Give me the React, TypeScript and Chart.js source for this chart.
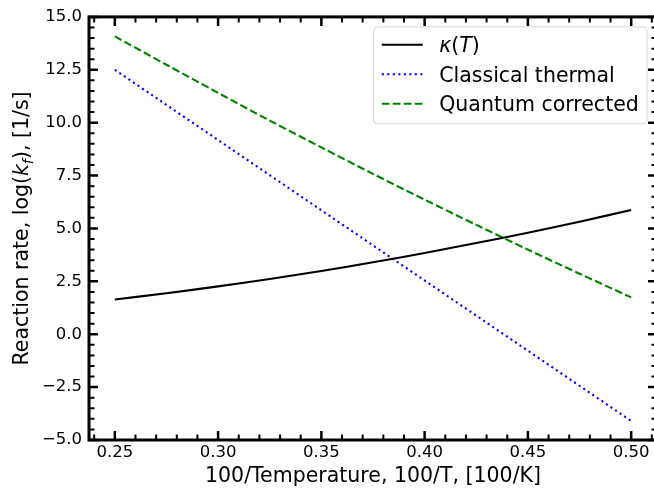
import { useEffect, useRef } from "react";
import { Chart, registerables } from "chart.js";

Chart.register(...registerables);

// Inverse temperature, 100/T [100/K]
const invTemperature = [0.25, 0.275, 0.3, 0.325, 0.35, 0.375, 0.4, 0.425, 0.45, 0.475, 0.5];
// Tunnelling correction kappa(T)
const kappaT = [1.64, 1.94, 2.26, 2.61, 2.99, 3.4, 3.84, 4.31, 4.8, 5.32, 5.87];
// Classical thermal rate, log(k_f)
const classicalThermal = [12.5, 10.84, 9.18, 7.52, 5.86, 4.2, 2.54, 0.88, -0.78, -2.44, -4.1];
// Quantum corrected rate, log(k_f)
const quantumCorrected = [14.08, 12.74, 11.41, 10.1, 8.83, 7.58, 6.36, 5.17, 4.0, 2.86, 1.74];

const xTickValues = [0.25, 0.3, 0.35, 0.4, 0.45, 0.5];
const yTickValues = [-5, -2.5, 0, 2.5, 5, 7.5, 10, 12.5, 15];
const xMinorStep = 0.01;
const yMinorStep = 0.5;

const FONT = "DejaVu Sans";

type Run = { t: string; i?: boolean; sub?: boolean };

const yTitleRuns: Run[] = [
  { t: "Reaction rate, log(" },
  { t: "k", i: true },
  { t: "f", i: true, sub: true },
  { t: "), [1/s]" },
];

const legendRuns: Run[][] = [
  [{ t: "κ", i: true }, { t: "(" }, { t: "T", i: true }, { t: ")" }],
  [{ t: "Classical thermal" }],
  [{ t: "Quantum corrected" }],
];

function runFont(r: Run, size: number) {
  const s = r.sub ? size * 0.7 : size;
  return `${r.i ? "italic " : ""}${s}px "${FONT}"`;
}

function runsWidth(ctx: CanvasRenderingContext2D, runs: Run[], size: number) {
  let w = 0;
  for (const r of runs) {
    ctx.font = runFont(r, size);
    w += ctx.measureText(r.t).width;
  }
  return w;
}

// Draws runs left-aligned from (x, y) on an alphabetic baseline
function drawRuns(ctx: CanvasRenderingContext2D, runs: Run[], size: number, x: number, y: number) {
  ctx.textBaseline = "alphabetic";
  ctx.textAlign = "left";
  let cx = x;
  for (const r of runs) {
    ctx.font = runFont(r, size);
    ctx.fillText(r.t, cx, r.sub ? y + size * 0.22 : y);
    cx += ctx.measureText(r.t).width;
  }
}

const frameAndTicks = {
  id: "frameAndTicks",
  afterDatasetsDraw(chart: any) {
    const { ctx, chartArea } = chart;
    const { left, right, top, bottom } = chartArea;
    const xs = chart.scales.x;
    const ys = chart.scales.y;
    const majorLen = 9;
    const minorLen = 5.5;
    ctx.save();
    ctx.strokeStyle = "#000";
    ctx.lineCap = "butt";

    const isMajor = (v: number, list: number[]) => list.some((m) => Math.abs(m - v) < 1e-6);

    // x ticks, bottom and top
    ctx.lineWidth = 2;
    for (let i = Math.ceil(xs.min / xMinorStep - 1e-6); i * xMinorStep <= xs.max + 1e-9; i++) {
      const v = i * xMinorStep;
      if (isMajor(v, xTickValues)) continue;
      const px = xs.getPixelForValue(v);
      ctx.beginPath();
      ctx.moveTo(px, bottom);
      ctx.lineTo(px, bottom - minorLen);
      ctx.moveTo(px, top);
      ctx.lineTo(px, top + minorLen);
      ctx.stroke();
    }
    for (let i = Math.ceil(ys.min / yMinorStep - 1e-6); i * yMinorStep <= ys.max + 1e-9; i++) {
      const v = i * yMinorStep;
      if (isMajor(v, yTickValues)) continue;
      const py = ys.getPixelForValue(v);
      ctx.beginPath();
      ctx.moveTo(left, py);
      ctx.lineTo(left + minorLen, py);
      ctx.moveTo(right, py);
      ctx.lineTo(right - minorLen, py);
      ctx.stroke();
    }
    ctx.lineWidth = 2.5;
    for (const v of xTickValues) {
      const px = xs.getPixelForValue(v);
      ctx.beginPath();
      ctx.moveTo(px, bottom);
      ctx.lineTo(px, bottom - majorLen);
      ctx.moveTo(px, top);
      ctx.lineTo(px, top + majorLen);
      ctx.stroke();
    }
    for (const v of yTickValues) {
      const py = ys.getPixelForValue(v);
      ctx.beginPath();
      ctx.moveTo(left, py);
      ctx.lineTo(left + majorLen, py);
      ctx.moveTo(right, py);
      ctx.lineTo(right - majorLen, py);
      ctx.stroke();
    }

    // axes frame
    ctx.lineWidth = 3;
    ctx.strokeRect(left, top, right - left, bottom - top);
    ctx.restore();
  },
  afterDraw(chart: any) {
    const { ctx, chartArea } = chart;
    const { left, right, top, bottom } = chartArea;
    ctx.save();
    ctx.fillStyle = "#000";

    // y axis title (with italic k and subscript f)
    const tSize = 20.5;
    const tw = runsWidth(ctx, yTitleRuns, tSize);
    ctx.translate(28, (top + bottom) / 2);
    ctx.rotate(-Math.PI / 2);
    drawRuns(ctx, yTitleRuns, tSize, -tw / 2, 0);
    ctx.setTransform(1, 0, 0, 1, 0, 0);

    // legend, upper right
    const em = 20.5;
    const textW = Math.max(...legendRuns.map((r) => runsWidth(ctx, r, em)));
    const boxW = 0.4 * em + 2 * em + 0.8 * em + textW + 0.4 * em;
    const boxH = 4.73 * em;
    const bx = right - 10 - boxW;
    const by = top + 10;
    ctx.beginPath();
    ctx.roundRect(bx, by, boxW, boxH, 4);
    ctx.fillStyle = "rgba(255,255,255,0.8)";
    ctx.fill();
    ctx.strokeStyle = "rgba(204,204,204,0.8)";
    ctx.lineWidth = 1;
    ctx.stroke();

    chart.data.datasets.forEach((ds: any, i: number) => {
      const cy = by + 0.87 * em + i * 1.44 * em;
      const hx = bx + 0.4 * em;
      ctx.beginPath();
      ctx.strokeStyle = ds.borderColor;
      ctx.lineWidth = ds.borderWidth;
      ctx.setLineDash(ds.borderDash || []);
      ctx.moveTo(hx, cy);
      ctx.lineTo(hx + 2 * em, cy);
      ctx.stroke();
      ctx.setLineDash([]);
      ctx.fillStyle = "#000";
      drawRuns(ctx, legendRuns[i], em, hx + 2.8 * em, cy + 0.36 * em);
    });
    ctx.restore();
  },
};

export default function App() {
  const canvasRef = useRef<HTMLCanvasElement | null>(null);

  useEffect(() => {
    if (!canvasRef.current) return;
    const chart = new Chart(canvasRef.current, {
      type: "line",
      data: {
        datasets: [
          {
            label: "κ(T)",
            data: invTemperature.map((x, i) => ({ x, y: kappaT[i] })),
            borderColor: "#000000",
            borderWidth: 2.1,
            pointRadius: 0,
            tension: 0.3,
          },
          {
            label: "Classical thermal",
            data: invTemperature.map((x, i) => ({ x, y: classicalThermal[i] })),
            borderColor: "#0000ff",
            borderWidth: 2.1,
            borderDash: [2.1, 3.4],
            pointRadius: 0,
          },
          {
            label: "Quantum corrected",
            data: invTemperature.map((x, i) => ({ x, y: quantumCorrected[i] })),
            borderColor: "#008000",
            borderWidth: 2.1,
            borderDash: [7.7, 3.3],
            pointRadius: 0,
            tension: 0.3,
          },
        ],
      },
      options: {
        responsive: false,
        animation: false,
        layout: { padding: { top: 15, right: 9, bottom: 0, left: 0 } },
        plugins: { legend: { display: false }, tooltip: { enabled: false } },
        scales: {
          x: {
            type: "linear",
            min: 0.2375,
            max: 0.5125,
            grid: { display: false, drawTicks: false },
            border: { display: false },
            afterBuildTicks: (scale: any) => {
              scale.ticks = xTickValues.map((value) => ({ value }));
            },
            afterFit: (scale: any) => {
              scale.height = 51;
            },
            ticks: {
              autoSkip: false,
              maxRotation: 0,
              padding: 3,
              color: "#000",
              font: { family: FONT, size: 16.5 },
              callback: (v: any) => Number(v).toFixed(2),
            },
            title: {
              display: true,
              text: "100/Temperature, 100/T, [100/K]",
              color: "#000",
              font: { family: FONT, size: 20.5 },
              padding: { top: 0, bottom: 2 },
            },
          },
          y: {
            type: "linear",
            min: -5,
            max: 15,
            grid: { display: false, drawTicks: false },
            border: { display: false },
            afterBuildTicks: (scale: any) => {
              scale.ticks = yTickValues.map((value) => ({ value }));
            },
            afterFit: (scale: any) => {
              scale.width = 89;
            },
            ticks: {
              autoSkip: false,
              padding: 7,
              color: "#000",
              font: { family: FONT, size: 16.5 },
              callback: (v: any) => Number(v).toFixed(1).replace("-", "\u2212"),
            },
          },
        },
      },
      plugins: [frameAndTicks],
    });
    return () => chart.destroy();
  }, []);

  return (
    <div
      style={{
        position: "fixed",
        left: 0,
        top: 0,
        width: 654,
        height: 491,
        overflow: "hidden",
        background: "#fff",
      }}
    >
      <canvas ref={canvasRef} width={666} height={491} style={{ display: "block" }} />
    </div>
  );
}
